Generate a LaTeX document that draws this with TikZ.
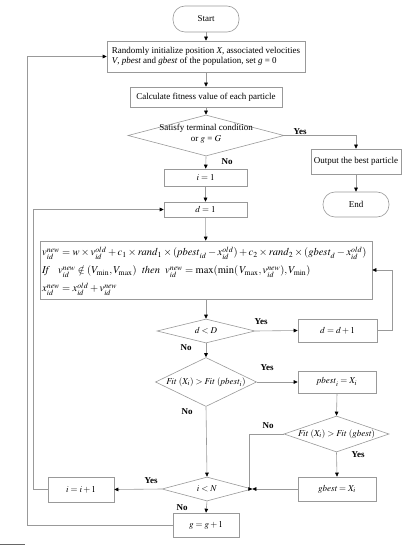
\documentclass[tikz,border=0pt]{standalone}
\usepackage{mathptmx}
\usepackage{fontspec}
\setmainfont{Liberation Serif}
\usetikzlibrary{arrows.meta,shapes.geometric}
\begin{document}
\begin{tikzpicture}[x=1pt,y=-1pt,
  font=\fontsize{9}{10.5}\selectfont,
  line/.style={draw=black!40, line width=0.6pt},
  arr/.style={line, -{Triangle[length=4pt,width=3.6pt,black]}},
  box/.style={draw=black!40, line width=0.6pt, rectangle, inner sep=1pt, align=center},
  term/.style={box, rounded corners=12pt},
  dia/.style={draw=black!40, line width=0.6pt, diamond, inner sep=0pt},
  lab/.style={font=\fontsize{9}{10.5}\selectfont\bfseries},
]
\useasboundingbox (0,0) rectangle (418,545);

\node[term, minimum width=66pt, minimum height=26pt] (start) at (206,19) {Start};
\node[box, minimum width=198pt, minimum height=31pt, align=left] (init) at (206,56.5)
  {Randomly initialize position \textit{X}, associated velocities\\[-1pt]
   \textit{V}, \textit{pbest} and \textit{gbest} of the population, set \textit{g} = 0};
\node[box, minimum width=152pt, minimum height=20pt] (calc) at (206,97) {Calculate fitness value of each particle};
\node[dia, minimum width=156pt, minimum height=41pt] (cond) at (206,135.5) {};
\node[align=center, inner sep=0pt] (condt) at (206,134) {Satisfy terminal condition\\ or $g$ = $G$};
\node[box, minimum width=90pt, minimum height=25pt] (out) at (356,161.5) {Output the best particle};
\node[term, minimum width=66pt, minimum height=25pt] (end) at (356,204.5) {End};
\node[box, minimum width=83pt, minimum height=17pt] (i1) at (205.5,177.5) {$i = 1$};
\node[box, minimum width=83pt, minimum height=15pt] (d1) at (205.5,209.5) {$d = 1$};
\node[box, minimum width=332pt, minimum height=58pt] (big) at (206,270) {};
\node[anchor=west, inner sep=0pt, align=left, font=\fontsize{10.5}{18}\selectfont] (eqs) at (42,271)
  {$v_{id}^{new} = w\times v_{id}^{old} + c_1\times \mathit{rand}_1\times(\mathit{pbest}_{id} - x_{id}^{old}) + c_2\times \mathit{rand}_2\times(\mathit{gbest}_d - x_{id}^{old})$\\
   $\mathit{If}\enspace\ v_{id}^{new}\notin(V_{\min},V_{\max})\ \ \mathit{then}\ \ v_{id}^{new} = \max(\min(\,V_{\max},v_{id}^{new}),V_{\min})$\\
   $x_{id}^{new} = x_{id}^{old} + v_{id}^{new}$};
\node[dia, minimum width=98pt, minimum height=24pt] (dD) at (206,331) {};
\node at (dD.center) {$d < D$};
\node[box, minimum width=79pt, minimum height=23pt] (dinc) at (337.5,330.5) {$d = d + 1$};
\node[dia, minimum width=101pt, minimum height=49pt] (fitp) at (206,382) {};
\node at (fitp.center) {$\mathit{Fit}\ (X_i) > \mathit{Fit}\ (\mathit{pbest}_i)$};
\node[box, minimum width=78pt, minimum height=22pt] (pb) at (337,382) {$\mathit{pbest}_i = X_i$};
\node[dia, minimum width=105pt, minimum height=36pt] (fitg) at (336.5,434) {};
\node at (fitg.center) {$\mathit{Fit}\ (X_i) > \mathit{Fit}\ (\mathit{gbest})$};
\node[box, minimum width=78pt, minimum height=24pt] (gb) at (337,489) {$\mathit{gbest} = X_i$};
\node[dia, minimum width=90pt, minimum height=24pt] (iN) at (207,489) {};
\node at (iN.center) {$i < N$};
\node[box, minimum width=66pt, minimum height=25pt] (iinc) at (81,489.5) {$i = i + 1$};
\node[box, minimum width=66pt, minimum height=24pt] (ginc) at (206,525) {$g = g + 1$};

\coordinate (cy) at (356,135.5);
\coordinate (r1) at (392,330.5);
\coordinate (r2) at (392,270);
\coordinate (n1) at (249,434);
\coordinate (l1) at (33,489.5);
\coordinate (l2) at (33,209.5);
\coordinate (g1) at (27,525);
\coordinate (g2) at (27,56.5);

\draw[arr] (start) -- (init);
\draw[arr] (init) -- (calc);
\draw[arr] (calc) -- (cond);
\draw[arr] (cond.east) -- (cy) -- (out.north);
\draw[arr] (out) -- (end);
\draw[arr] (cond.south) -- (i1);
\draw[arr] (i1) -- (d1);
\draw[arr] (d1) -- (big);
\draw[arr] (big) -- (dD.north);
\draw[arr] (dD.east) -- (dinc.west);
\draw[arr] (dinc.east) -- (r1) -- (r2) -- (big.east);
\draw[arr] (dD.south) -- (fitp.north);
\draw[arr] (fitp.east) -- (pb.west);
\draw[arr] (pb.south) -- (fitg.north);
\draw[arr] (fitg.west) -- (n1) -- (n1 |- iN.east) -- (iN.east);
\draw[arr] (fitg.south) -- (gb.north);
\draw[arr] (gb.west) -- (iN.east);
\draw[arr] (fitp.south) -- (iN.north);
\draw[arr] (iN.west) -- (iinc.east);
\draw[arr] (iinc.west) -- (l1) -- (l2) -- (d1.west);
\draw[arr] (iN.south) -- (ginc.north);
\draw[arr] (ginc.west) -- (g1) -- (g2) -- (init.west);

\node[lab] (y1) at (300,132) {Yes};
\node[lab] (n2) at (227,162) {No};
\node[lab] (y2) at (261,322) {Yes};
\node[lab] (n3) at (186,348) {No};
\node[lab] (y3) at (267,368) {Yes};
\node[lab] (n4) at (187,412) {No};
\node[lab] (n5) at (268,426) {No};
\node[lab] (y4) at (358,455) {Yes};
\node[lab] (y5) at (151,481) {Yes};
\node[lab] (n6) at (182,508) {No};

\draw[black!60, line width=0.8pt] (0,544) -- (25,544);
\end{tikzpicture}
\end{document}
